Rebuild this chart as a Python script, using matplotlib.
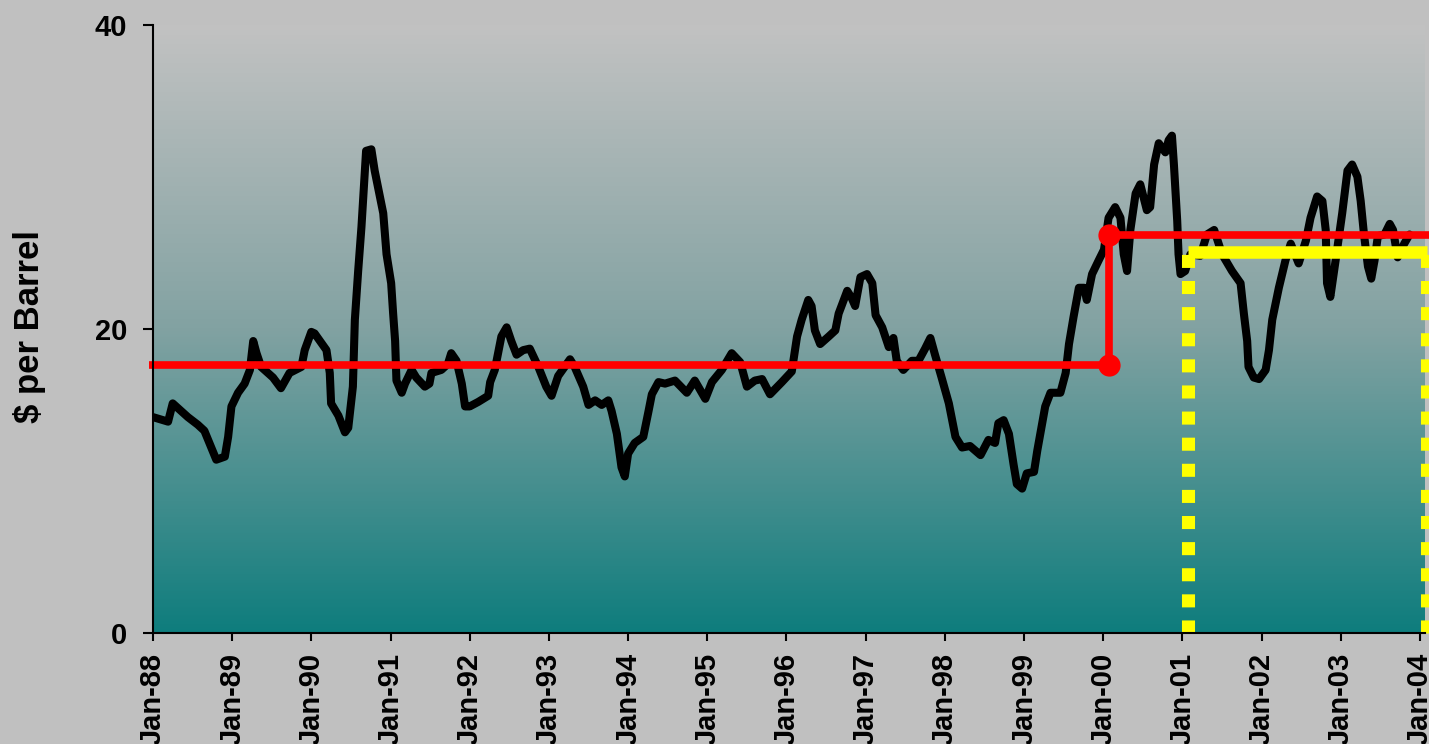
import numpy as np
import matplotlib
matplotlib.use('Agg')
import matplotlib.pyplot as plt
from matplotlib.colors import LinearSegmentedColormap

plt.rcParams['font.family'] = ['Liberation Sans', 'DejaVu Sans']

# oil price, months since Jan-88 and $ per barrel
months = [0, 2.3, 3.0, 5.3, 6.8, 7.8, 9.6, 10.9, 11.4, 11.9, 12.9, 13.9, 14.7, 15.2,
          15.7, 16.4, 18.2, 19.4, 20.7, 22.5, 23.0, 24.0, 24.5, 26.3, 26.8, 27.0,
          28.1, 29.1, 29.6, 30.3, 30.6, 31.1, 31.6, 32.3, 33.1, 33.6, 34.9, 35.4,
          36.1, 36.4, 36.7, 36.9, 37.7, 38.2, 39.2, 39.9, 41.2, 41.9, 42.2, 43.7,
          44.7, 45.2, 46.0, 46.8, 47.3, 48.0, 49.3, 50.8, 51.1, 51.8, 52.8, 53.6,
          54.3, 55.1, 56.1, 57.1, 58.4, 59.6, 60.4, 61.4, 63.2, 63.9, 65.2, 66.0,
          67.0, 68.0, 69.0, 69.5, 70.3, 71.0, 71.5, 72.0, 73.0, 74.3, 75.1, 75.6,
          76.6, 77.6, 79.1, 80.9, 82.1, 83.7, 84.7, 86.2, 87.7, 89.0, 90.0, 91.2,
          92.3, 93.5, 95.3, 96.8, 97.6, 98.3, 99.3, 99.8, 100.3, 101.1, 102.4,
          103.4, 103.9, 105.2, 105.9, 106.4, 107.2, 108.2, 109.0, 109.5, 110.5,
          111.5, 112.2, 112.7, 113.7, 115.0, 116.0, 117.0, 117.8, 118.5, 119.5,
          120.6, 121.6, 122.6, 123.8, 125.4, 126.6, 127.6, 128.1, 128.9, 129.7,
          130.4, 130.9, 131.7, 132.4, 133.5, 134.0, 135.2, 136.0, 137.5, 138.3,
          138.8, 139.5, 140.3, 141.1, 141.5, 142.3, 143.3, 144.1, 144.8, 145.8,
          146.6, 147.1, 147.6, 148.1, 148.9, 149.6, 150.6, 151.1, 151.7, 152.4,
          153.4, 153.9, 154.4, 154.7, 155.2, 155.4, 155.7, 156.4, 157.2, 158.7,
          159.7, 160.8, 162.0, 163.5, 164.8, 165.3, 165.8, 166.0, 166.8, 167.6,
          168.6, 169.1, 169.6, 170.6, 171.6, 172.4, 173.6, 174.7, 175.4, 176.4,
          177.2, 177.7, 177.9, 178.4, 179.2, 180.2, 181.0, 181.7, 182.5, 183.0,
          183.5, 184.1, 184.6, 185.1, 185.6, 186.6, 187.4, 187.9, 188.6, 189.6,
          190.4]
price = [14.2, 13.9, 15.1, 14.2, 13.7, 13.3, 11.4, 11.6, 12.9, 14.9, 15.8, 16.4, 17.3, 19.2,
         18.4, 17.5, 16.8, 16.1, 17.1, 17.5, 18.6, 19.8, 19.7, 18.6, 17.1, 15.1,
         14.3, 13.2, 13.5, 16.2, 20.6, 23.8, 26.7, 31.7, 31.8, 30.4, 27.6, 24.9,
         23.0, 21.0, 19.2, 16.6, 15.8, 16.4, 17.3, 16.8, 16.2, 16.4, 17.1, 17.3,
         17.7, 18.4, 17.9, 16.4, 14.9, 14.9, 15.2, 15.6, 16.5, 17.3, 19.5, 20.1,
         19.2, 18.3, 18.6, 18.7, 17.5, 16.2, 15.6, 16.9, 18.0, 17.5, 16.2, 15.0,
         15.3, 15.0, 15.3, 14.6, 13.1, 10.9, 10.3, 11.8, 12.5, 12.9, 14.6, 15.7,
         16.5, 16.4, 16.6, 15.8, 16.6, 15.4, 16.5, 17.3, 18.4, 17.8, 16.2, 16.6,
         16.7, 15.7, 16.5, 17.2, 19.5, 20.6, 21.9, 21.5, 19.9, 19.0, 19.5,
         19.9, 21.0, 22.5, 22.0, 21.5, 23.4, 23.6, 23.0, 20.9, 20.1,
         18.8, 19.4, 17.9, 17.3, 17.9, 17.9, 18.7, 19.4, 18.3, 16.8,
         15.1, 12.9, 12.2, 12.3, 11.7, 12.7, 12.5, 13.8, 14.0, 13.1,
         11.1, 9.8, 9.5, 10.5, 10.6, 12.0, 14.9, 15.8, 15.8, 17.1,
         19.0, 20.8, 22.7, 22.7, 21.9, 23.6, 24.5, 25.2, 27.3, 28.0,
         27.3, 24.9, 23.8, 26.5, 28.9, 29.5, 27.8, 28.0, 30.8, 32.2,
         31.6, 32.4, 32.7, 30.8, 27.1, 24.9, 23.6, 23.8, 24.9, 24.8,
         26.2, 26.5, 24.9, 23.8, 23.0, 21.0, 19.2, 17.5, 16.8, 16.7,
         17.3, 18.6, 20.6, 22.7, 24.5, 25.6, 24.3, 25.8, 27.3, 28.7,
         28.4, 26.5, 23.0, 22.1, 24.5, 27.6, 30.4, 30.8, 30.0, 28.4,
         26.2, 24.1, 23.3, 24.5, 26.1, 26.2, 26.9, 26.5, 24.7, 25.6,
         26.2]

# average price levels
red_levels = [17.65, 26.2]
red_span = [-0.6, 144.8, 193.3]      # start, step month, end
yellow_level = 25.05
yellow_span = [156.9, 193.0]

tick_months = list(range(0, 193, 12))
tick_labels = [f'Jan-{y % 100:02d}' for y in range(1988, 2005)]

BG = '#C0C0C0'

fig = plt.figure(figsize=(14.29, 7.44), dpi=100, facecolor=BG)
ax = fig.add_axes([0.107, 0.149, 0.890, 0.818])
ax.set_facecolor(BG)

# background gradient (silver -> teal)
grad_cmap = LinearSegmentedColormap.from_list(
    'silver_teal', [(0.0, '#0E7D7D'), (0.5, '#82A2A2'), (1.0, '#C2C2C2')])
grad = np.linspace(0, 1, 256).reshape(-1, 1)
ax.imshow(grad, cmap=grad_cmap, origin='lower', aspect='auto',
          extent=[0, 192.7, 0, 40], zorder=0, interpolation='bilinear')

ax.plot(months, price, color='black', lw=5.8, solid_joinstyle='round',
        solid_capstyle='round', zorder=3)

# yellow frame (dotted sides, solid top)
ax.plot([yellow_span[0]] * 2, [0, yellow_level], color='#FFFF00', lw=9.4,
        ls=(0, (1, 1)), dash_capstyle='butt', clip_on=False, zorder=4)
ax.plot([yellow_span[1]] * 2, [0, yellow_level], color='#FFFF00', lw=9.4,
        ls=(0, (1, 1)), dash_capstyle='butt', clip_on=False, zorder=4)
ax.plot(yellow_span, [yellow_level] * 2, color='#FFFF00', lw=9, clip_on=False,
        solid_capstyle='butt', zorder=4)

# red step
ax.plot([red_span[0], red_span[1], red_span[1], red_span[2]],
        [red_levels[0], red_levels[0], red_levels[1], red_levels[1]],
        color='#FF0000', lw=5.5, clip_on=False, solid_capstyle='butt', zorder=5)
ax.plot([red_span[1]] * 2, red_levels, 'o', color='#FF0000', ms=15, clip_on=False,
        zorder=6)

ax.set_xlim(0, 192.7)
ax.set_ylim(0, 40)
ax.set_yticks([0, 20, 40])
ax.set_xticks(tick_months)
ax.set_xticklabels(tick_labels, rotation=90)

for s in ['top', 'right']:
    ax.spines[s].set_visible(False)
for s in ['left', 'bottom']:
    ax.spines[s].set_linewidth(1.5)
    ax.spines[s].set_zorder(7)

ax.tick_params(axis='y', length=7.5, width=1.5, pad=11, labelsize=21)
ax.tick_params(axis='x', length=6, width=1.5, pad=8, labelsize=21)
for lbl in ax.get_xticklabels() + ax.get_yticklabels():
    lbl.set_fontweight('bold')

fig.text(30 / 1429, 1 - 327 / 744, '$ per Barrel', rotation=90, ha='center',
         va='center', fontsize=25, fontweight='bold')

fig.savefig('out.png', dpi=100, facecolor=BG)
